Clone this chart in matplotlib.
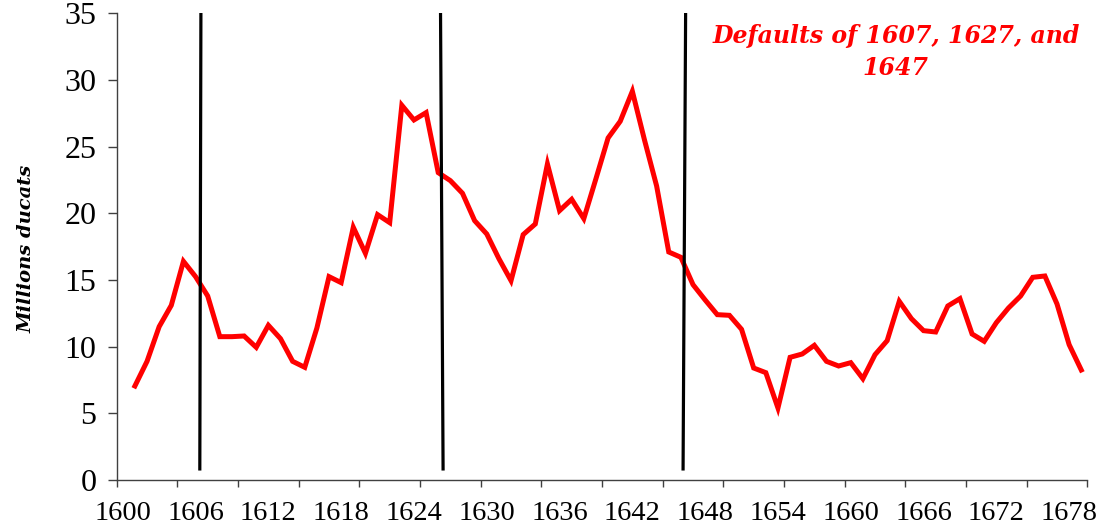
import numpy as np
import matplotlib
matplotlib.use('Agg')
import matplotlib.pyplot as plt
from matplotlib.ticker import FixedLocator, NullFormatter

# Spanish debt, millions of ducats
years = list(range(1601, 1680))
ducats = [7.05, 8.9, 11.5, 13.1, 16.4, 15.25, 13.8, 10.75, 10.75, 10.8,
          9.95, 11.6, 10.6, 8.9, 8.45, 11.4, 15.25, 14.8, 18.95, 17.0,
          19.9, 19.3, 28.1, 27.0, 27.55, 23.05, 22.45, 21.5, 19.45, 18.45,
          16.6, 14.95, 18.4, 19.2, 23.7, 20.2, 21.05, 19.6, 22.6, 25.65,
          26.9, 29.15, 25.5, 22.05, 17.1, 16.7, 14.65, 13.5, 12.4, 12.35,
          11.3, 8.4, 8.05, 5.4, 9.2, 9.45, 10.1, 8.9, 8.55, 8.8,
          7.6, 9.4, 10.45, 13.4, 12.1, 11.2, 11.1, 13.05, 13.6, 10.95,
          10.4, 11.8, 12.9, 13.8, 15.2, 15.3, 13.2, 10.15, 8.25]

# hand-drawn default markers (slightly slanted)
default_top = [1606.44, 1626.19, 1646.39]
default_bottom = [1606.35, 1626.4, 1646.18]
label_years = list(range(1600, 1679, 6))

fig = plt.figure(figsize=(11.02, 5.29), dpi=100)
ax = fig.add_axes([0.1059, 0.0926, 0.8808, 0.8823])

ax.plot(years, ducats, color='#ff0000', linewidth=3.6, solid_joinstyle='miter', zorder=3)
for xt, xb in zip(default_top, default_bottom):
    ax.plot([xb, xt], [0.83, 35], color='black', linewidth=2.3, zorder=4)

ax.set_xlim(1599.5, 1679.5)
ax.set_ylim(0, 35)

# category-style axis: ticks between years every 5, labels every 6
ax.xaxis.set_major_locator(FixedLocator(np.arange(1599.5, 1680, 5)))
ax.xaxis.set_major_formatter(NullFormatter())
ax.set_xticks(label_years, [str(y) for y in label_years], minor=True)
ax.tick_params(axis='x', which='major', direction='out', length=5, width=1, color='#404040')
ax.tick_params(axis='x', which='minor', length=0, pad=15, labelsize=20.5)
ax.set_yticks(range(0, 36, 5))
ax.tick_params(axis='y', direction='out', length=6.5, width=1, color='#404040', pad=8, labelsize=23)

for lab in ax.get_xticklabels(minor=True) + ax.get_yticklabels():
    lab.set_fontfamily('Liberation Serif')

for s in ['top', 'right']:
    ax.spines[s].set_visible(False)
for s in ['left', 'bottom']:
    ax.spines[s].set_color('#404040')
    ax.spines[s].set_linewidth(1)

fig.text(0.024, 0.53, 'Millions ducats', rotation=90, ha='center', va='center',
         fontsize=14, fontstyle='italic', fontweight='bold', family='DejaVu Serif')

fig.text(0.813, 0.955, 'Defaults of 1607, 1627, and\n1647', ha='center', va='top',
         multialignment='center', color='#ff0000', fontsize=17, fontstyle='italic',
         fontweight='bold', family='DejaVu Serif', linespacing=1.45)

plt.savefig('out.png', dpi=100)
plt.close()
